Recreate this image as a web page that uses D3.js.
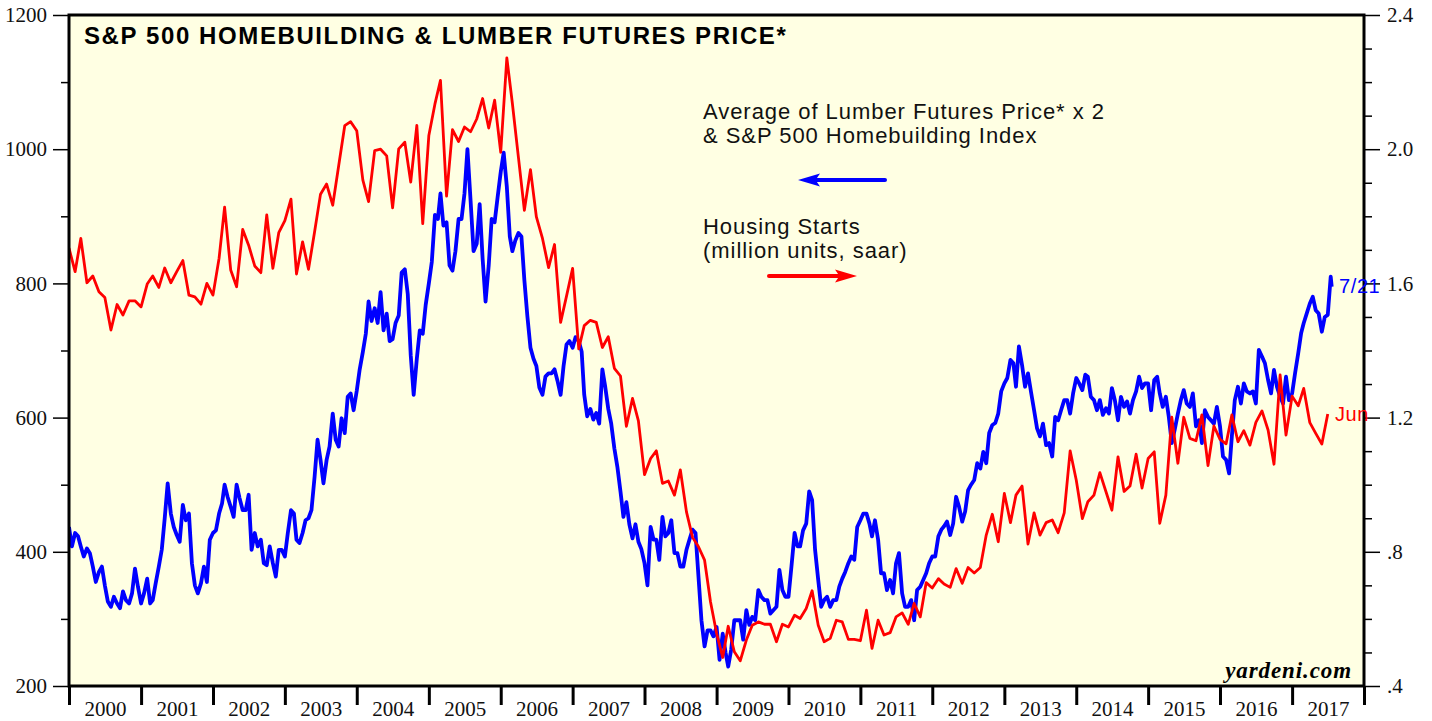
<!DOCTYPE html>
<html>
<head>
<meta charset="utf-8">
<script src="https://cdn.jsdelivr.net/npm/d3@7"></script>
<style>
  body { margin: 0; background: #fff; }
  svg { display: block; }
</style>
</head>
<body>
<div id="chart"></div>
<script>
// Lumber futures x2 & S&P 500 homebuilding average, semi-monthly readings (1st and 16th), Jan 2000 on
const lumberHb = [
  437, 408, 428, 423, 408, 393, 405, 398, 378, 355, 370, 378, 350, 326, 318, 333, 323, 316, 341, 328, 323, 338, 375, 348,
  323, 338, 360, 323, 328, 353, 378, 403, 450, 502, 457, 437, 425, 415, 470, 447, 457, 383, 350, 338, 353, 378, 355, 418,
  428, 432, 457, 472, 500, 482, 467, 452, 500, 480, 462, 462, 485, 403, 428, 408, 418, 383, 380, 408, 383, 363, 403, 403,
  393, 428, 462, 457, 418, 413, 428, 447, 450, 462, 512, 567, 537, 502, 537, 557, 606, 567, 557, 599, 577, 631, 636, 611,
  640, 672, 698, 725, 773, 744, 763, 741, 787, 730, 755, 714, 717, 741, 752, 816, 821, 784, 693, 634, 688, 730, 725, 768,
  800, 832, 902, 896, 934, 886, 891, 827, 819, 848, 896, 896, 934, 1000, 923, 848, 859, 918, 837, 773, 827, 896, 891, 928,
  966, 995, 944, 870, 848, 864, 875, 870, 805, 752, 704, 688, 677, 645, 634, 661, 666, 666, 672, 655, 634, 677, 709, 714,
  704, 720, 714, 698, 634, 602, 613, 597, 607, 591, 672, 645, 613, 591, 554, 527, 490, 452, 474, 441, 420, 441, 415, 404,
  383, 350, 437, 418, 418, 388, 452, 423, 428, 447, 398, 398, 378, 378, 403, 418, 433, 428, 363, 298, 259, 283, 283, 274,
  288, 239, 278, 249, 229, 254, 298, 298, 298, 269, 313, 291, 303, 298, 343, 333, 328, 328, 308, 313, 318, 373, 343, 333,
  333, 378, 428, 408, 408, 432, 442, 490, 477, 403, 358, 318, 328, 333, 318, 328, 328, 348, 360, 370, 383, 393, 388, 437,
  447, 457, 457, 442, 423, 447, 418, 368, 368, 343, 358, 338, 383, 398, 338, 318, 318, 328, 298, 343, 348, 358, 368, 383,
  393, 393, 423, 433, 438, 445, 425, 442, 482, 467, 445, 460, 492, 500, 507, 532, 524, 549, 532, 577, 589, 592, 606, 639,
  651, 659, 686, 681, 646, 706, 678, 646, 666, 639, 611, 584, 572, 591, 559, 562, 542, 601, 596, 611, 626, 626, 606, 636,
  659, 651, 641, 664, 661, 631, 626, 611, 626, 604, 614, 606, 644, 626, 596, 631, 616, 624, 606, 626, 639, 661, 644, 651,
  651, 611, 656, 661, 636, 616, 631, 601, 562, 582, 606, 626, 641, 621, 616, 636, 587, 596, 562, 611, 601, 596, 591, 616,
  587, 542, 537, 517, 572, 626, 646, 621, 651, 639, 636, 639, 621, 701, 691, 681, 656, 636, 671, 646, 631, 621, 661, 626,
  636, 666, 696, 726, 741, 755, 770, 780, 760, 755, 728, 750, 753, 810
];
const lumberLast = {date: "2017-07-21", value: 795};

// Housing starts, million units saar, Dec 1999 .. Jun 2017 (each plotted at month end)
const housingStarts = [
  1.705, 1.635, 1.734, 1.602, 1.622, 1.575, 1.558, 1.461, 1.537, 1.506, 1.548, 1.548,
  1.530, 1.598, 1.622, 1.588, 1.646, 1.602, 1.635, 1.668, 1.565, 1.560, 1.538, 1.600,
  1.565, 1.675, 1.827, 1.640, 1.590, 1.761, 1.714, 1.652, 1.632, 1.804, 1.645, 1.751,
  1.787, 1.851, 1.628, 1.724, 1.642, 1.754, 1.866, 1.896, 1.833, 1.950, 2.070, 2.082,
  2.055, 1.908, 1.844, 1.996, 2.000, 1.980, 1.825, 2.001, 2.021, 1.902, 2.071, 1.778,
  2.041, 2.135, 2.205, 1.860, 2.058, 2.023, 2.066, 2.052, 2.090, 2.151, 2.063, 2.146,
  1.991, 2.272, 2.137, 1.975, 1.818, 1.939, 1.798, 1.734, 1.647, 1.716, 1.484, 1.562,
  1.645, 1.405, 1.474, 1.490, 1.484, 1.409, 1.441, 1.347, 1.324, 1.174, 1.257, 1.190,
  1.030, 1.078, 1.101, 1.004, 1.011, 0.969, 1.044, 0.919, 0.843, 0.815, 0.775, 0.651,
  0.557, 0.485, 0.578, 0.502, 0.475, 0.537, 0.581, 0.591, 0.584, 0.584, 0.532, 0.584,
  0.576, 0.611, 0.601, 0.631, 0.684, 0.581, 0.532, 0.542, 0.596, 0.591, 0.539, 0.539,
  0.535, 0.626, 0.512, 0.596, 0.552, 0.559, 0.606, 0.618, 0.584, 0.646, 0.606, 0.708,
  0.692, 0.720, 0.704, 0.694, 0.750, 0.706, 0.753, 0.737, 0.753, 0.850, 0.912, 0.830,
  0.974, 0.887, 0.969, 0.996, 0.823, 0.916, 0.850, 0.887, 0.895, 0.857, 0.916, 1.101,
  1.014, 0.899, 0.949, 0.969, 1.036, 0.979, 0.924, 1.083, 0.980, 0.996, 1.091, 0.990,
  1.078, 1.098, 0.885, 0.969, 1.201, 1.064, 1.201, 1.138, 1.131, 1.208, 1.057, 1.175,
  1.135, 1.122, 1.208, 1.128, 1.161, 1.118, 1.186, 1.220, 1.163, 1.061, 1.327, 1.148,
  1.264, 1.235, 1.287, 1.185, 1.153, 1.121, 1.211
];

const years = [2000, 2001, 2002, 2003, 2004, 2005, 2006, 2007, 2008,
               2009, 2010, 2011, 2012, 2013, 2014, 2015, 2016, 2017];
const leftTicks = [200, 400, 600, 800, 1000, 1200];
const leftMinor = [300, 500, 700, 900, 1100];
const rightTicks = [0.4, 0.8, 1.2, 1.6, 2.0, 2.4];
const rightMinor = [0.5, 0.6, 0.7, 0.9, 1.0, 1.1, 1.3, 1.4, 1.5, 1.7, 1.8, 1.9, 2.1, 2.2, 2.3];

const width = 1432, height = 721;
const plot = {left: 69, right: 1364, top: 15, bottom: 686};
const serif = "'Liberation Serif', 'Times New Roman', serif";
const sans = "'Liberation Sans', Arial, Helvetica, sans-serif";

const svg = d3.select("#chart").append("svg")
  .attr("width", width)
  .attr("height", height)
  .style("background", "#fff");

const x = d3.scaleTime()
  .domain([new Date(2000, 0, 1), new Date(2018, 0, 1)])
  .range([plot.left, plot.right]);
const yLeft = d3.scaleLinear().domain([200, 1200]).range([plot.bottom, plot.top]);
const yRight = d3.scaleLinear().domain([0.4, 2.4]).range([plot.bottom, plot.top]);

// series with dates
const blueData = lumberHb.map((v, i) => ({
  date: new Date(2000 + Math.floor(i / 24), Math.floor((i % 24) / 2), i % 2 ? 16 : 1),
  value: v
}));
blueData.push({date: new Date(lumberLast.date + "T00:00:00"), value: lumberLast.value});

const redData = housingStarts.map((v, i) => ({
  date: d3.timeMonth.offset(new Date(2000, 0, 1), i),
  value: v
}));

// plot background
svg.append("rect")
  .attr("x", plot.left).attr("y", plot.top)
  .attr("width", plot.right - plot.left)
  .attr("height", plot.bottom - plot.top)
  .attr("fill", "#ffffe3");

svg.append("clipPath").attr("id", "clip")
  .append("rect")
  .attr("x", plot.left).attr("y", plot.top)
  .attr("width", plot.right - plot.left)
  .attr("height", plot.bottom - plot.top);

const g = svg.append("g").attr("clip-path", "url(#clip)");

g.append("path")
  .datum(blueData)
  .attr("fill", "none")
  .attr("stroke", "#0000ff")
  .attr("stroke-width", 3.8)
  .attr("stroke-linejoin", "round")
  .attr("d", d3.line().x(d => x(d.date)).y(d => yLeft(d.value)));

g.append("path")
  .datum(redData)
  .attr("fill", "none")
  .attr("stroke", "#ff0000")
  .attr("stroke-width", 2.8)
  .attr("stroke-linejoin", "round")
  .attr("d", d3.line().x(d => x(d.date)).y(d => yRight(d.value)));

// left axis
svg.append("g")
  .attr("transform", `translate(${plot.left},0)`)
  .call(d3.axisLeft(yLeft).tickValues(leftTicks).tickSize(16).tickPadding(6).tickFormat(d3.format("d")));
svg.append("g")
  .attr("transform", `translate(${plot.left},0)`)
  .call(d3.axisLeft(yLeft).tickValues(leftMinor).tickSize(8).tickFormat(""));

// right axis
svg.append("g")
  .attr("transform", `translate(${plot.right},0)`)
  .call(d3.axisRight(yRight).tickValues(rightTicks).tickSize(16).tickPadding(7)
    .tickFormat(d => d < 1 ? d3.format(".1f")(d).replace(/^0/, "") : d3.format(".1f")(d)));
svg.append("g")
  .attr("transform", `translate(${plot.right},0)`)
  .call(d3.axisRight(yRight).tickValues(rightMinor).tickSize(8).tickFormat(""));

// bottom axis: year boundaries + labels centred in each year
const yearStarts = years.concat([2018]).map(yr => new Date(yr, 0, 1));
svg.append("g")
  .attr("class", "year-ticks")
  .attr("transform", `translate(0,${plot.bottom})`)
  .call(d3.axisBottom(x).tickValues(yearStarts).tickSize(19).tickFormat(""));
svg.append("g")
  .attr("class", "year-labels")
  .attr("transform", `translate(0,${plot.bottom})`)
  .call(d3.axisBottom(x).tickValues(years.map(yr => new Date(yr, 6, 2))).tickSize(0).tickPadding(15)
    .tickFormat(d3.timeFormat("%Y")));

svg.selectAll(".domain").remove();
svg.selectAll(".tick line").attr("stroke", "#000").attr("stroke-width", 1.5);
svg.selectAll(".year-ticks .tick line").attr("stroke-width", 3);
svg.selectAll(".tick text")
  .attr("fill", "#111")
  .style("font-family", serif)
  .style("font-size", "21px");

// frame
svg.append("rect")
  .attr("x", plot.left).attr("y", plot.top)
  .attr("width", plot.right - plot.left)
  .attr("height", plot.bottom - plot.top)
  .attr("fill", "none")
  .attr("stroke", "#000")
  .attr("stroke-width", 3);

// title
svg.append("text")
  .attr("x", 84).attr("y", 44)
  .style("font-family", sans)
  .style("font-weight", "bold")
  .style("font-size", "24px")
  .style("letter-spacing", "1.6px")
  .text("S&P 500 HOMEBUILDING & LUMBER FUTURES PRICE*");

// legend notes
const note = svg.append("g")
  .style("font-family", sans)
  .style("font-size", "22px")
  .style("letter-spacing", "0.95px")
  .attr("fill", "#111");
note.append("text").attr("x", 703).attr("y", 119).text("Average of Lumber Futures Price* x 2");
note.append("text").attr("x", 703).attr("y", 143).text("& S&P 500 Homebuilding Index");
note.append("text").attr("x", 703).attr("y", 234).text("Housing Starts");
note.append("text").attr("x", 703).attr("y", 258).text("(million units, saar)");

// arrows
function arrow(x0, x1, y, color) {
  const dir = Math.sign(x1 - x0);
  const headLen = 22, headW = 6.5;
  svg.append("line")
    .attr("x1", x0).attr("y1", y)
    .attr("x2", x1 - dir * headLen * 0.6).attr("y2", y)
    .attr("stroke", color).attr("stroke-width", 4).attr("stroke-linecap", "round");
  svg.append("path")
    .attr("d", `M${x1},${y} L${x1 - dir * headLen},${y - headW} L${x1 - dir * headLen * 0.8},${y} L${x1 - dir * headLen},${y + headW} Z`)
    .attr("fill", color);
}
arrow(885, 798, 180, "#0000ff");
arrow(769, 857, 276, "#ff0000");

// end labels
svg.append("text")
  .attr("x", 1339).attr("y", 293)
  .style("font-family", sans).style("font-size", "20px")
  .style("letter-spacing", "0.6px")
  .attr("fill", "#0000ff")
  .text("7/21");
svg.append("text")
  .attr("x", 1335).attr("y", 421)
  .style("font-family", sans).style("font-size", "20px")
  .style("letter-spacing", "0.6px")
  .attr("fill", "#ff0000")
  .text("Jun");

// source
svg.append("text")
  .attr("x", 1352).attr("y", 678)
  .attr("text-anchor", "end")
  .style("font-family", serif)
  .style("font-weight", "bold")
  .style("font-style", "italic")
  .style("font-size", "23px")
  .style("letter-spacing", "0.9px")
  .text("yardeni.com");
</script>
</body>
</html>
